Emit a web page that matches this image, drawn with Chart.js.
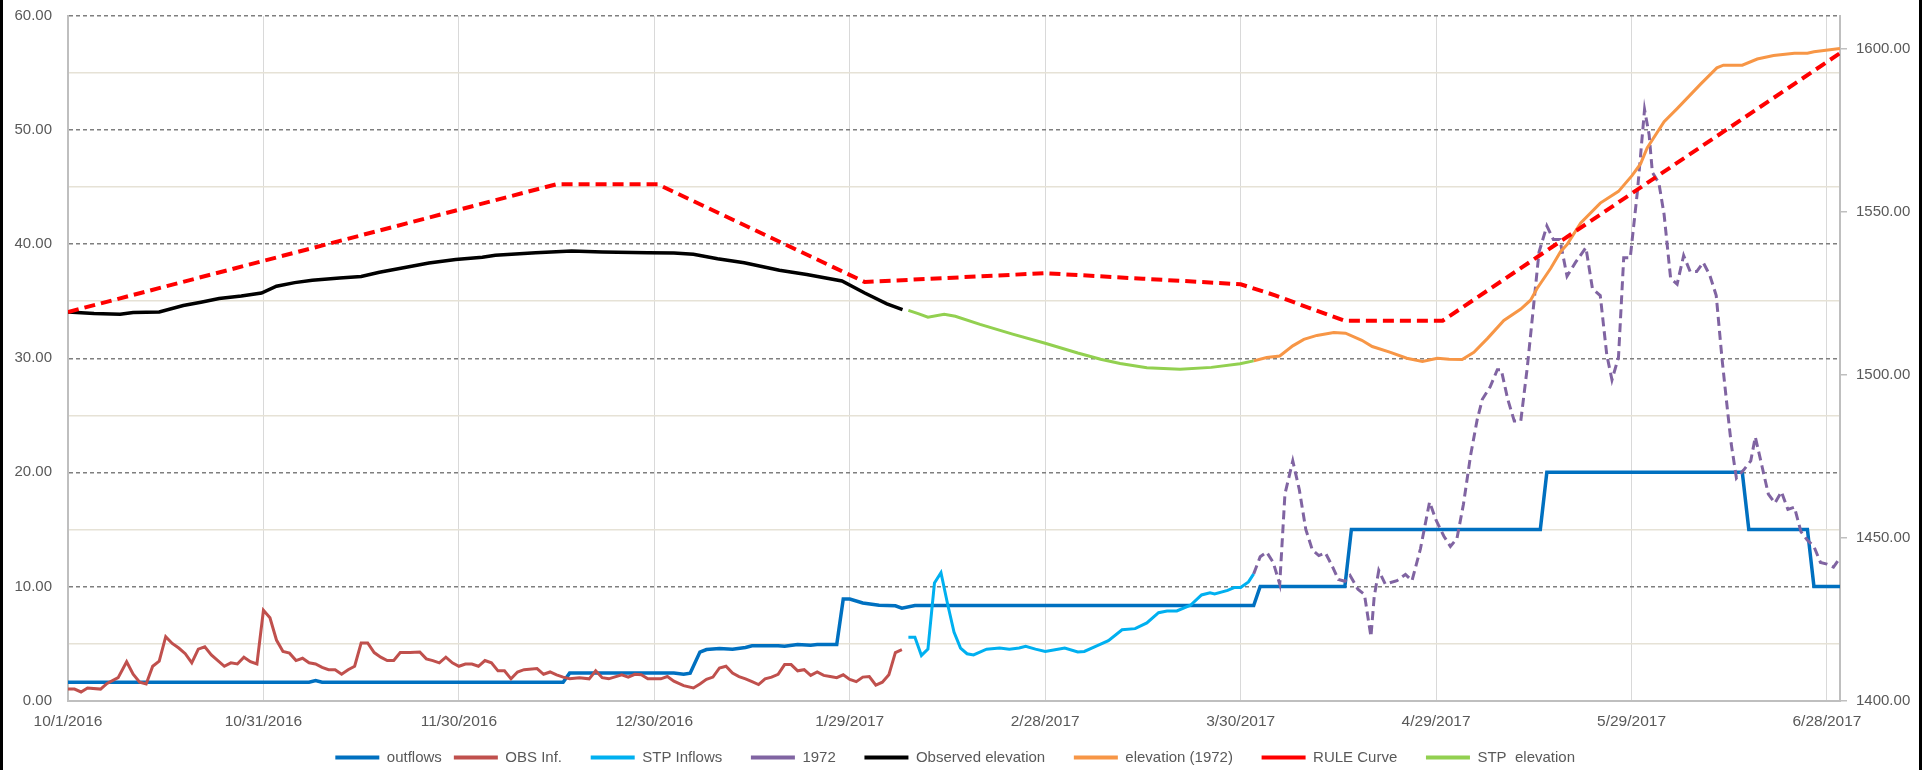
<!DOCTYPE html>
<html>
<head>
<meta charset="utf-8">
<script src="https://cdn.jsdelivr.net/npm/chart.js@4.4.1/dist/chart.umd.min.js"></script>
<style>
  html, body { margin: 0; padding: 0; background: #fff; overflow: hidden; }
  #wrap { position: relative; width: 1927px; height: 770px; }
  #chart { position: absolute; left: 0; top: 0; }
  .frame { position: absolute; top: 0; width: 3px; height: 770px; background: #000; }
</style>
</head>
<body>
<div id="wrap">
  <canvas id="chart" width="1927" height="770"></canvas>
  <div class="frame" style="left:0"></div>
  <div class="frame" style="left:1919px"></div>
</div>
<script>
// x = days since 10/1/2016
const tickLabels = ['10/1/2016', '10/31/2016', '11/30/2016', '12/30/2016', '1/29/2017',
    '2/28/2017', '3/30/2017', '4/29/2017', '5/29/2017', '6/28/2017'];

// flows (left axis)
const outflows = [[0,1.6],[37,1.6],[38,1.75],[39,1.6],[76,1.6],[77,2.4],[93,2.4],[94.5,2.3],[95.5,2.4],
    [97,4.24],[98,4.47],[100,4.55],[102,4.5],[104,4.65],[105,4.8],[109,4.8],[110,4.75],[112,4.9],[114,4.85],
    [115,4.9],[118,4.9],[119,8.9],[120,8.9],[122,8.55],[124.5,8.35],[127,8.3],[128,8.1],[130,8.33],
    [182,8.33],[183,10],[196,10],[197,15],[226,15],[227,20],[257,20],[258,15],[267,15],[268,10],[272,10]];

const obsInflows = [[0,1.0],[1,1.0],[2,0.75],[3,1.1],[5,1.0],[6,1.5],[7.7,2.0],[9,3.4],[10,2.3],[11,1.6],
    [12,1.45],[13,3.0],[14,3.45],[15,5.6],[16,5.0],[17,4.6],[18,4.1],[19,3.3],[20,4.5],[21,4.7],[22,4.0],
    [24,3.0],[25,3.3],[26,3.2],[27,3.8],[28,3.4],[29,3.2],[30,7.9],[31,7.25],[32,5.3],[33,4.3],[34,4.15],
    [35,3.5],[36,3.7],[37,3.3],[38,3.2],[39,2.9],[40,2.7],[41,2.7],[42,2.3],[43,2.7],[44,3.0],[45,5.05],
    [46,5.05],[47,4.2],[48,3.8],[49,3.5],[50,3.5],[51,4.2],[52.5,4.2],[54,4.25],[55,3.65],[56,3.5],[57,3.3],
    [58,3.8],[59,3.3],[60,3.0],[61,3.2],[62,3.2],[63,3.0],[64,3.5],[65,3.3],[66,2.6],[67,2.6],[68,1.9],
    [69,2.5],[70,2.7],[72,2.8],[73,2.3],[74,2.5],[75,2.25],[76,2.05],[77,1.9],[78.5,2.0],[80,1.9],[81,2.6],
    [82,2.0],[83,1.9],[85,2.25],[86,2.05],[87,2.3],[88,2.25],[89,1.9],[91,1.9],[92,2.1],[93,1.7],[94.5,1.3],
    [96,1.1],[97,1.45],[98,1.85],[99,2.05],[100,2.85],[101,3.0],[102,2.4],[103,2.1],[104,1.9],[105,1.65],
    [106,1.4],[107,1.9],[108,2.05],[109,2.3],[110,3.15],[111,3.15],[112,2.6],[113,2.7],[114,2.2],[115,2.5],
    [116,2.2],[117,2.1],[118,2.0],[119,2.25],[120,1.85],[121,1.65],[122,2.05],[123,2.1],[124,1.35],
    [125,1.6],[126,2.25],[127,4.2],[128,4.45]];

const stpInflows = [[129,5.55],[130,5.55],[131,3.95],[132,4.5],[133,10.3],[134,11.2],[135,8.5],[136,6.0],
    [137,4.6],[138,4.1],[139,4.0],[141,4.5],[143,4.6],[144.5,4.5],[146,4.6],[147,4.75],[148.5,4.5],[150,4.3],
    [151.5,4.45],[153,4.6],[155,4.25],[156,4.3],[158,4.8],[159.7,5.25],[161.8,6.2],[163.8,6.3],[165.6,6.8],
    [167.4,7.7],[168.7,7.85],[170.2,7.85],[172.3,8.35],[174,9.25],[175.3,9.45],[176,9.35],[178,9.65],
    [179,9.9],[180,9.9],[181.2,10.4],[182,11.1]];

const flows1972 = [[182,11.1],[183,12.6],[184,13.0],[185,12.1],[186,10.2],[186.8,18.1],[188,21.0],[189,18.5],
    [190,15],[191,13.2],[192,12.7],[193,12.95],[194,11.85],[195,10.6],[196,10.45],[196.8,10.95],[198,9.75],
    [199,9.3],[200,5.6],[200.5,9.1],[201.2,11.4],[202.2,10.2],[204,10.5],[205.3,11.05],[206.3,10.5],
    [207.6,13.3],[209,17.4],[210,15.8],[211.2,14.4],[212.2,13.5],[213.2,14.2],[214.2,17.2],[215.3,21.5],
    [216.3,24.6],[217.1,26.4],[218.3,27.5],[219.4,29.0],[220,29.0],[221,26.4],[222,24.5],[223,24.5],
    [224,29.2],[225,34.8],[225.8,39.3],[227,41.6],[228,40.4],[229,40.4],[230.1,37.2],[231.4,38.4],[233,39.7],
    [234,36.1],[235.2,35.5],[236.2,30.3],[237,28.1],[238,30.1],[238.8,38.8],[239.8,38.8],[240.9,44.6],
    [242,51.8],[242.7,49.6],[243.2,46.3],[244.2,45.35],[245,42.6],[246,37.0],[247,36.5],[248,39.0],
    [249,37.6],[250,37.6],[251,38.4],[252,37.3],[253,35.5],[253.9,29.9],[254.7,25.6],[255.3,22.5],
    [256.1,19.5],[257.2,20.2],[258.3,21.0],[259,23.1],[260,20.6],[261,18.1],[262,17.3],[263,18.3],
    [264,16.75],[265,16.95],[266,14.8],[267,14.05],[268,13.5],[269,12.1],[270,11.95],[271,11.7],[272,12.5]];

// elevations (right axis)
const observedElev = [[0,1519.2],[4,1518.7],[8,1518.5],[10,1519.0],[14,1519.2],[17.7,1521.2],[20.4,1522.2],
    [23.2,1523.3],[26.6,1524.1],[29.7,1525.0],[32,1527.1],[34.8,1528.2],[37.5,1528.9],[41.7,1529.6],
    [45,1530.1],[47.8,1531.4],[51.3,1532.7],[55.4,1534.2],[59.5,1535.3],[63.6,1536.0],[65.6,1536.6],
    [71.8,1537.4],[77.3,1537.9],[82,1537.6],[89,1537.4],[93,1537.3],[96,1536.9],[99.7,1535.5],[103.8,1534.3],
    [109.2,1532.0],[113.4,1530.7],[118.8,1528.7],[122.3,1525.0],[125.7,1521.7],[128.1,1519.9]];

const elev1972 = [[182,1504.2],[184,1505.2],[186,1505.7],[188,1508.8],[189.7,1510.8],[191.7,1512.0],
    [194.3,1512.9],[196.1,1512.7],[198.6,1510.5],[200.2,1508.6],[203,1506.8],[205.5,1505.0],[207.9,1504.0],
    [210.2,1505.0],[212,1504.7],[214,1504.6],[215.8,1506.8],[217.9,1511.1],[220.4,1516.6],[223,1520.1],
    [224.5,1522.8],[225.5,1526.4],[227.6,1532.6],[229.1,1537.7],[230.1,1539.9],[232.2,1546.5],[235.2,1552.6],
    [238,1556.2],[240.1,1561.1],[241.4,1564.7],[242.4,1569.5],[245,1577.6],[247,1581.6],[250.6,1589.1],
    [253.1,1594.1],[254.1,1594.9],[257,1594.9],[259.3,1596.8],[261.8,1597.9],[265,1598.6],[267,1598.6],
    [268,1599.0],[272,1600.0]];

const ruleCurve = [[0,1519.2],[75,1558.4],[90.5,1558.4],[122.3,1528.4],[150,1531.1],[165,1529.4],[180,1527.7],
    [185.3,1524.3],[192.2,1519.2],[196,1516.5],[211,1516.5],[272,1598.6]];

const stpElev = [[129,1519.7],[130.5,1518.7],[132,1517.6],[134.5,1518.5],[136.2,1517.9],[140,1515.4],
    [145,1512.4],[150,1509.6],[155,1506.6],[158.5,1504.7],[161.5,1503.4],[165.6,1502.1],[170.7,1501.6],
    [175.5,1502.2],[179.9,1503.3],[182,1504.2]];

const toXY = arr => arr.map(p => ({ x: p[0], y: p[1] }));

const series = [
    { label: 'outflows', data: outflows, color: '#0070C0', width: 3.5, axis: 'y' },
    { label: 'OBS Inf.', data: obsInflows, color: '#C0504D', width: 3, axis: 'y' },
    { label: 'STP Inflows', data: stpInflows, color: '#00B0F0', width: 3, axis: 'y' },
    { label: '1972', data: flows1972, color: '#8064A2', width: 3, axis: 'y', dash: [9, 5] },
    { label: 'Observed elevation', data: observedElev, color: '#000000', width: 3.5, axis: 'y1' },
    { label: 'elevation (1972)', data: elev1972, color: '#F79646', width: 3, axis: 'y1' },
    { label: 'RULE Curve', data: ruleCurve, color: '#FF0000', width: 4, axis: 'y1', dash: [11, 6] },
    { label: 'STP  elevation', data: stpElev, color: '#92D050', width: 3, axis: 'y1' },
];

Chart.defaults.font.family = '"Liberation Sans", Arial, sans-serif';
Chart.defaults.color = '#595959';

const ctx = document.getElementById('chart').getContext('2d');
new Chart(ctx, {
    type: 'line',
    data: {
        datasets: series.map((s, i) => ({
            label: s.label,
            data: toXY(s.data),
            borderColor: s.color,
            backgroundColor: s.color,
            borderWidth: s.width,
            borderDash: s.dash || [],
            pointRadius: 0,
            tension: 0,
            fill: false,
            yAxisID: s.axis,
            order: series.length - i,
        })),
    },
    options: {
        responsive: false,
        animation: false,
        layout: { padding: { top: 16, left: 0, right: 0, bottom: -5 } },
        plugins: {
            tooltip: { enabled: false },
            legend: {
                position: 'bottom',
                labels: {
                    usePointStyle: true,
                    pointStyle: 'line',
                    pointStyleWidth: 44,
                    padding: 12,
                    color: '#595959',
                    font: { size: 15 },
                    sort: (a, b) => a.datasetIndex - b.datasetIndex,
                    // trailing spaces widen the gap between items without adding vertical padding
                    generateLabels: chart =>
                        Chart.defaults.plugins.legend.labels.generateLabels(chart)
                            .map((l, i, all) => Object.assign(l, {
                                lineWidth: 4,
                                text: i < all.length - 1 ? l.text + '    ' : l.text,
                            })),
                },
            },
        },
        scales: {
            x: {
                type: 'linear',
                min: 0,
                max: 272,
                afterFit: s => { s.height = 37.5; },
                ticks: {
                    stepSize: 30,
                    includeBounds: false,
                    autoSkip: false,
                    maxRotation: 0,
                    padding: 12,
                    font: { size: 15.5 },
                    callback: v => tickLabels[v / 30] ?? '',
                },
                grid: { color: '#D9D9D9', lineWidth: 1, drawTicks: false },
                border: { color: '#BFBFBF', width: 2 },
            },
            y: {
                position: 'left',
                min: 0,
                max: 60,
                afterFit: s => { s.width = 68; },
                ticks: {
                    stepSize: 5,
                    padding: 3,
                    font: { size: 15 },
                    callback: v => (v % 10 === 0 ? v.toFixed(2) : ''),
                },
                grid: {
                    drawTicks: true,
                    tickLength: 13,
                    tickColor: 'rgba(0,0,0,0)',
                    lineWidth: 1.5,
                    color: c => {
                        const v = c.tick ? c.tick.value : 0;
                        if (v === 0) return 'rgba(0,0,0,0)';
                        return v % 10 === 0 ? '#7F7F7F' : '#E6E2D6';
                    },
                },
                border: {
                    color: '#BFBFBF',
                    width: 2,
                    dash: c => (c.tick && c.tick.value % 10 === 0 ? [4, 3] : []),
                },
            },
            y1: {
                position: 'right',
                min: 1400,
                max: 1610,
                afterFit: s => { s.width = 87; },
                ticks: {
                    stepSize: 50,
                    includeBounds: false,
                    padding: 3,
                    font: { size: 15 },
                    callback: v => v.toFixed(2),
                },
                grid: {
                    drawOnChartArea: false,
                    drawTicks: true,
                    tickLength: 13,
                    tickBorderDash: [6, 40],
                    tickColor: '#BFBFBF',
                    color: '#BFBFBF',
                    lineWidth: 1.5,
                },
                border: { color: '#BFBFBF', width: 2 },
            },
        },
    },
});
</script>
</body>
</html>
